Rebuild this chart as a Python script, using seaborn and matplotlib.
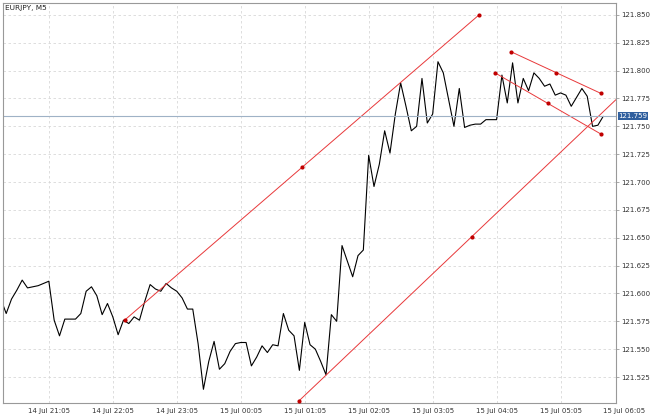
import numpy as np
import pandas as pd
import matplotlib
matplotlib.use("Agg")
import matplotlib.pyplot as plt
import matplotlib.transforms as mtransforms
import seaborn as sns

start_bar = -9
prices = [121.595, 121.582, 121.595, 121.603, 121.612, 121.605, 121.606, 121.607, 121.609,
          121.611, 121.576, 121.562, 121.577, 121.577, 121.577, 121.582, 121.602, 121.606,
          121.598, 121.581, 121.591, 121.579, 121.563, 121.576, 121.573, 121.579, 121.576,
          121.593, 121.608, 121.604, 121.602, 121.609, 121.605, 121.602, 121.596, 121.586,
          121.586, 121.555, 121.514, 121.539, 121.557, 121.532, 121.537, 121.548, 121.555,
          121.556, 121.556, 121.535, 121.543, 121.553, 121.547, 121.554, 121.553, 121.582,
          121.567, 121.562, 121.531, 121.574, 121.554, 121.550, 121.539, 121.527, 121.581,
          121.575, 121.643, 121.629, 121.615, 121.634, 121.639, 121.724, 121.696, 121.716,
          121.746, 121.726, 121.761, 121.789, 121.768, 121.746, 121.750, 121.793, 121.753,
          121.761, 121.808, 121.798, 121.774, 121.750, 121.784, 121.749, 121.751, 121.752,
          121.752, 121.756, 121.756, 121.756, 121.796, 121.771, 121.807, 121.771, 121.793,
          121.782, 121.798, 121.793, 121.786, 121.788, 121.778, 121.780, 121.778, 121.768,
          121.776, 121.784, 121.777, 121.750, 121.751, 121.759]
tick_labels = ["14 Jul 21:05", "14 Jul 22:05", "14 Jul 23:05", "15 Jul 00:05", "15 Jul 01:05",
               "15 Jul 02:05", "15 Jul 03:05", "15 Jul 04:05", "15 Jul 05:05", "15 Jul 06:05"]
y_ticks = [121.525, 121.550, 121.575, 121.600, 121.625, 121.650, 121.675, 121.700,
           121.725, 121.750, 121.775, 121.800, 121.825, 121.850]
last_price = 121.759

# trend lines: (bar, price) endpoints and dot positions
up_line = ([14.2, 80.7], [121.576, 121.850]); up_dots = [14.2, 47.5, 80.7]
low_line = ([46.9, 106.4], [121.5035, 121.774]); low_dots = [46.9, 79.3]
dch_up = ([86.7, 103.6], [121.817, 121.7795]); dch_up_dots = [86.7, 95.2, 103.6]
dch_low = ([83.7, 103.6], [121.798, 121.743]); dch_low_dots = [83.7, 93.6, 103.6]

sns.set_style("white")
fig = plt.figure(figsize=(6.5, 4.17), dpi=100)
ax = fig.add_axes([3/650, 14/417, 613/650, 400/417])

df = pd.DataFrame({"bar": np.arange(start_bar, start_bar + len(prices)), "price": prices})
sns.lineplot(data=df, x="bar", y="price", ax=ax, color="black", lw=0.8)

red = "#e8383a"
def interp(line, b):
    (x0, x1), (y0, y1) = line
    return y0 + (y1 - y0) * (np.asarray(b) - x0) / (x1 - x0)
for line, dots in [(up_line, up_dots), (low_line, low_dots), (dch_up, dch_up_dots), (dch_low, dch_low_dots)]:
    ax.plot(line[0], line[1], color=red, lw=0.7)
    ax.scatter(dots, interp(line, dots), color="#c00000", s=9, zorder=5, linewidths=0)

ax.axhline(last_price, color="#9fb2c6", lw=0.8)

ax.set_xlim(-8.6, 106.4)
ax.set_ylim(121.5017, 121.8607)
ticks = np.arange(0, 12 * len(tick_labels), 12)
ax.set_xticks(ticks[ticks < 106.4])
ax.set_xticklabels(tick_labels[:len(ax.get_xticks())], fontsize=5, color="#333333")
trans = mtransforms.blended_transform_factory(ax.transData, ax.transAxes)
for t, lab in zip(ticks, tick_labels):
    if t > 106.4:
        ax.text(t, -0.0125, lab, transform=trans, fontsize=5, color="#333333", ha="center", va="top", clip_on=False)
ax.yaxis.tick_right()
ax.set_yticks(y_ticks)
ax.set_yticklabels([f"{v:.3f}" for v in y_ticks], fontsize=5, color="#333333")
ax.tick_params(axis="both", length=2, width=0.5, color="#888888", pad=1.5)
ax.set_xlabel(""); ax.set_ylabel("")
ax.grid(True, color="#d8d8d8", ls=(0, (3, 3)), lw=0.6)
for s in ax.spines.values():
    s.set_color("#999999"); s.set_linewidth(0.8)
ax.text(0.003, 0.995, "EURJPY, M5", transform=ax.transAxes, fontsize=5.3, va="top", ha="left", color="#222222")
ax.text(1.004, last_price, f"{last_price:.3f}", transform=mtransforms.blended_transform_factory(ax.transAxes, ax.transData),
        fontsize=5, color="white", va="center", ha="left",
        bbox=dict(boxstyle="square,pad=0.12", fc="#2f5f9e", ec="none"), clip_on=False)
fig.savefig("out.png", dpi=100, facecolor="white")
